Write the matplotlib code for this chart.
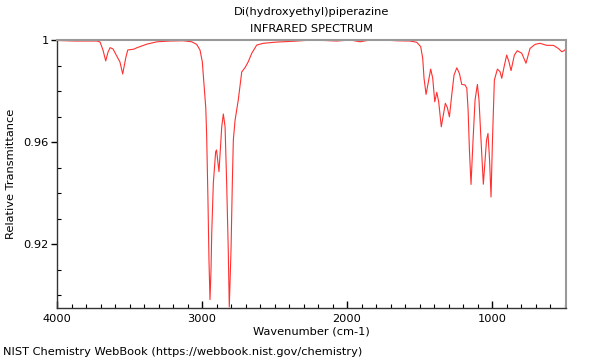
import matplotlib
matplotlib.use("Agg")
import matplotlib.pyplot as plt
from matplotlib.ticker import FixedLocator, MultipleLocator

title_lines = ["Di(hydroxyethyl)piperazine", "INFRARED SPECTRUM"]
x_label = "Wavenumber (cm-1)"
y_label = "Relative Transmittance"
footer = "NIST Chemistry WebBook (https://webbook.nist.gov/chemistry)"

x_ticks = [4000, 3000, 2000, 1000]
x_tick_labels = ["4000", "3000", "2000", "1000"]
y_ticks = [0.92, 0.96, 1.0]
y_tick_labels = ["0.92", "0.96", "1"]

wavenumber = [
    4000, 3876, 3724, 3703, 3683, 3664, 3648, 3634, 3614, 3586,
    3566, 3547, 3534, 3524, 3512, 3471, 3448, 3379, 3310, 3221,
    3131, 3071, 3037, 3014, 2998, 2986, 2974, 2968, 2959, 2952,
    2945, 2938, 2933, 2922, 2906, 2900, 2883, 2864, 2853, 2841,
    2830, 2819, 2812, 2800, 2791, 2784, 2772, 2750, 2726, 2703,
    2681, 2657, 2623, 2579, 2483, 2372, 2234, 2071, 1979, 1910,
    1841, 1752, 1657, 1566, 1519, 1492, 1478, 1469, 1455, 1439,
    1423, 1409, 1395, 1381, 1368, 1350, 1336, 1322, 1308, 1294,
    1278, 1262, 1243, 1225, 1209, 1186, 1174, 1165, 1156, 1145,
    1131, 1117, 1101, 1090, 1076, 1060, 1048, 1038, 1028, 1017,
    1007, 997, 984, 963, 945, 933, 917, 899, 883, 869,
    846, 826, 795, 766, 738, 703, 669, 623, 577, 543,
    519, 504, 492,
]
transmittance = [
    0.9998, 0.9996, 0.9996, 0.9992, 0.9961, 0.9918, 0.9953, 0.9970, 0.9965, 0.9935,
    0.9914, 0.9867, 0.9906, 0.9935, 0.9961, 0.9964, 0.9970, 0.9984, 0.9993, 0.9996,
    0.9997, 0.9993, 0.9983, 0.9961, 0.9915, 0.9824, 0.9733, 0.9627, 0.9373, 0.9137,
    0.8983, 0.9098, 0.9243, 0.9439, 0.9562, 0.9569, 0.9484, 0.9660, 0.9710, 0.9660,
    0.9439, 0.9176, 0.8954, 0.9176, 0.9439, 0.9608, 0.9686, 0.9765, 0.9875, 0.9892,
    0.9915, 0.9948, 0.9980, 0.9987, 0.9992, 0.9995, 1.0000, 0.9996, 1.0000, 0.9993,
    1.0000, 1.0000, 0.9997, 0.9996, 0.9991, 0.9974, 0.9928, 0.9850, 0.9787, 0.9836,
    0.9886, 0.9850, 0.9758, 0.9795, 0.9758, 0.9660, 0.9706, 0.9752, 0.9735, 0.9699,
    0.9784, 0.9863, 0.9891, 0.9869, 0.9826, 0.9824, 0.9811, 0.9725, 0.9569, 0.9434,
    0.9608, 0.9765, 0.9826, 0.9765, 0.9608, 0.9435, 0.9529, 0.9608, 0.9634, 0.9529,
    0.9385, 0.9608, 0.9843, 0.9886, 0.9876, 0.9850, 0.9895, 0.9941, 0.9914, 0.9880,
    0.9941, 0.9958, 0.9948, 0.9909, 0.9967, 0.9983, 0.9987, 0.9979, 0.9979, 0.9967,
    0.9954, 0.9958, 0.9964,
]

fs = 8.2

fig = plt.figure(figsize=(6, 3.6), dpi=100)
ax = fig.add_axes([57 / 600, 1 - 308 / 360, (566 - 57) / 600, (308 - 40) / 360])

ax.plot(wavenumber, transmittance, color="#ff3030", linewidth=0.8,
        solid_joinstyle="round")

ax.set_xlim(4000, 490)
ax.set_ylim(0.895, 1.0)

ax.xaxis.set_major_locator(FixedLocator(x_ticks))
ax.set_xticklabels(x_tick_labels, fontsize=fs)
ax.xaxis.set_minor_locator(MultipleLocator(100))
ax.yaxis.set_major_locator(FixedLocator(y_ticks))
ax.set_yticklabels(y_tick_labels, fontsize=fs)
ax.yaxis.set_minor_locator(MultipleLocator(0.01))

ax.tick_params(axis="x", which="major", direction="in", length=5, width=1, pad=4)
ax.tick_params(axis="x", which="minor", direction="in", length=3, width=0.8)
ax.tick_params(axis="y", which="major", direction="out", length=4, width=1, pad=2)
ax.tick_params(axis="y", which="minor", direction="in", length=3, width=0.8)

for side in ["left", "bottom"]:
    ax.spines[side].set_color("#333333")
    ax.spines[side].set_linewidth(1.0)
for side in ["top", "right"]:
    ax.spines[side].set_color("#999999")
    ax.spines[side].set_linewidth(1.5)

ax.set_xlabel(x_label, fontsize=fs, labelpad=2)
ax.set_ylabel(y_label, fontsize=fs, labelpad=5)

fig.text(311.5 / 600, 1 - 12 / 360, title_lines[0], ha="center", va="center", fontsize=fs)
fig.text(311.5 / 600, 1 - 29 / 360, title_lines[1], ha="center", va="center", fontsize=fs)
fig.text(3 / 600, 1 - 352 / 360, footer, ha="left", va="center", fontsize=fs)

fig.savefig("out.png", dpi=100)
